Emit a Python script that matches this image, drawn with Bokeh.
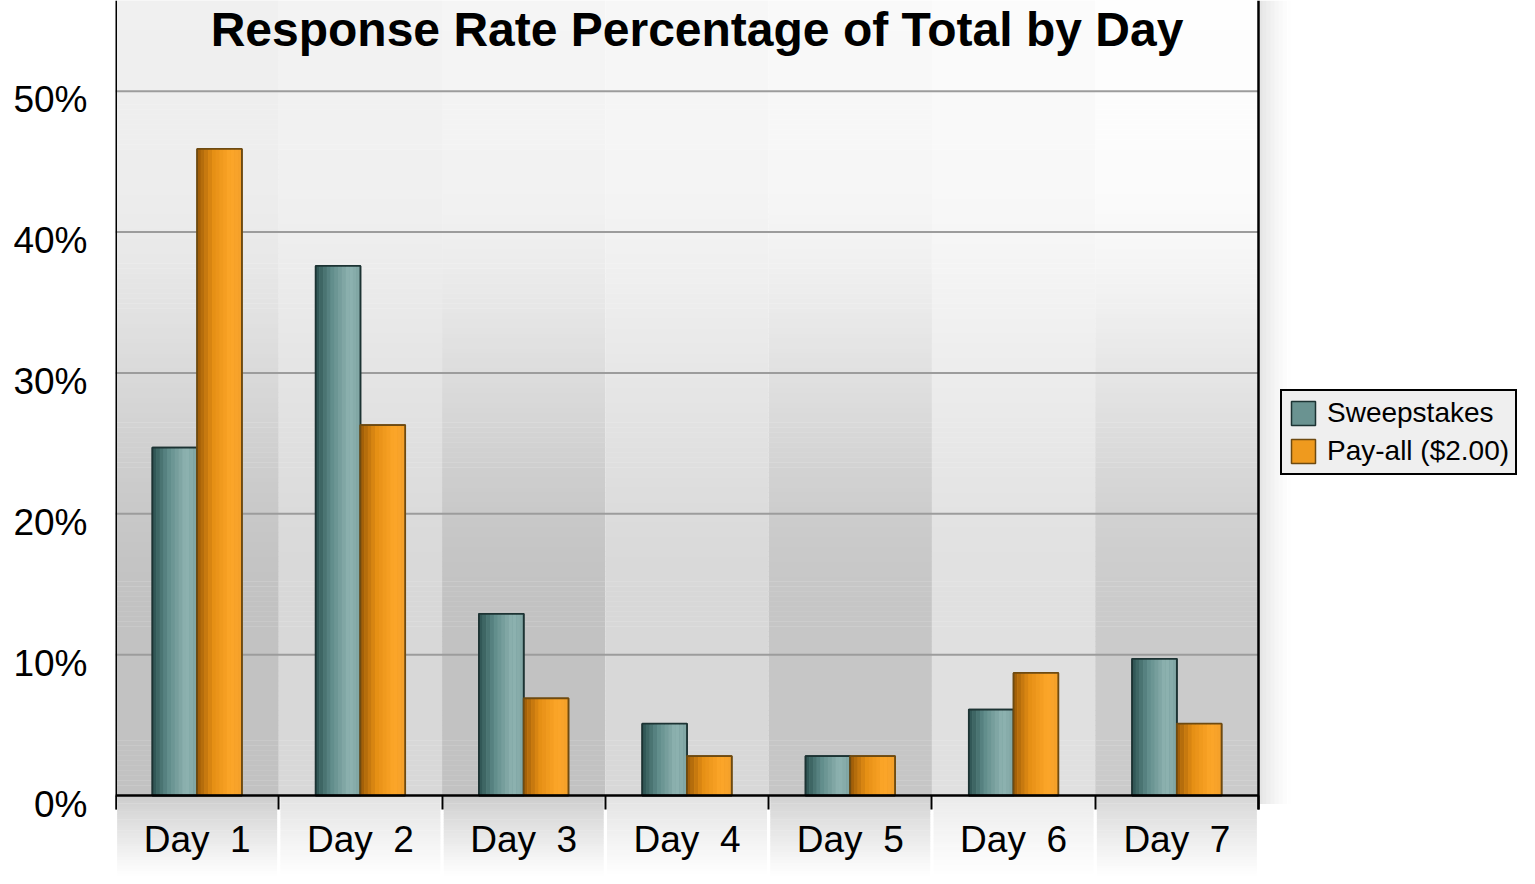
import numpy as np
from bokeh.plotting import figure
from bokeh.models import (Range1d, FixedTicker, Legend, LegendItem, Label)
from bokeh.embed import file_html
from bokeh.resources import INLINE

# ---------------- data ----------------
days = ["Day\u00a0\u00a01", "Day\u00a0\u00a02", "Day\u00a0\u00a03", "Day\u00a0\u00a04",
        "Day\u00a0\u00a05", "Day\u00a0\u00a06", "Day\u00a0\u00a07"]
sweepstakes = [24.7, 37.6, 12.9, 5.1, 2.8, 6.1, 9.7]
pay_all = [45.9, 26.3, 6.9, 2.8, 2.8, 8.7, 5.1]
y_ticks = [0, 10, 20, 30, 40, 50]
y_tick_labels = ["0%", "10%", "20%", "30%", "40%", "50%"]
series_names = ["Sweepstakes", "Pay-all ($2.00)"]
title_text = "Response Rate Percentage of Total by Day"

# ---------------- style ----------------
FONT = "Liberation Sans"
n = len(days)
FRAME_W, FRAME_H = 1412, 876
YMIN, YMAX = -5.75, 56.44
XMAX = n * FRAME_W / 1143.0
LABEL_SHIFT = 0.61   # y tick labels sit a little below their grid lines

p = figure(frame_width=FRAME_W, frame_height=FRAME_H, output_backend="svg", toolbar_location=None,
           x_range=Range1d(0, XMAX), y_range=Range1d(YMIN, YMAX),
           min_border_left=115, min_border_right=0, min_border_top=0, min_border_bottom=0,
           background_fill_color="white", border_fill_color="white")
p.outline_line_color = None
p.ygrid.visible = False
p.xgrid.visible = False

# ---- background bands (decorative gradient) ----
band_top = [0xf0, 0xf3, 0xf5, 0xf7, 0xf9, 0xfb, 0xfe]
band_bot = [0xc2, 0xd8, 0xc2, 0xd8, 0xc6, 0xe0, 0xcb]
L, R, B, T, C = [], [], [], [], []
N = 160
edges = np.linspace(0, YMAX, N + 1)
M = 30
edges_b = np.linspace(YMIN, 0, M + 1)
for i in range(n):
    for k in range(N):
        yc = 0.5 * (edges[k] + edges[k + 1])
        top_g = band_top[i] - 6 * min(1.0, (YMAX - yc) / 25.0)
        s = min(1.0, max(0.0, (44.0 - yc) / 32.0))
        s = s * s * (3 - 2 * s)
        g = int(round(top_g + (band_bot[i] - top_g) * s))
        L.append(i); R.append(i + 1); B.append(edges[k]); T.append(edges[k + 1] + 0.03)
        C.append("#%02x%02x%02x" % (g, g, g))
    for k in range(M):
        yc = 0.5 * (edges_b[k] + edges_b[k + 1])
        f = yc / YMIN
        b0 = band_bot[i] + 10
        g = int(round(b0 + (255 - b0) * f ** 0.9))
        L.append(i + 0.01); R.append(i + 0.99); B.append(edges_b[k]); T.append(edges_b[k + 1] + 0.03)
        C.append("#%02x%02x%02x" % (g, g, g))
p.quad(left=L, right=R, bottom=B, top=T, fill_color=C, line_color=None, level="image")

# soft shadow right of the plot area
SH = 8
sh_w = 0.2 / SH
p.quad(left=[n + j * sh_w for j in range(SH)], right=[n + (j + 1) * sh_w for j in range(SH)],
       bottom=[-0.6] * SH, top=[YMAX] * SH, fill_color="black",
       fill_alpha=[0.10 * (1 - j / SH) ** 1.5 for j in range(SH)], line_color=None, level="image")

# grid lines (only across the plot area)
gt = y_ticks[1:]
p.segment(x0=[0] * len(gt), y0=gt, x1=[n] * len(gt), y1=gt, line_color="#9c9c9c", line_width=2)

# ---- y axis ----
lab_pos = [t - LABEL_SHIFT for t in y_ticks]
p.yaxis.ticker = FixedTicker(ticks=lab_pos)
p.yaxis.major_label_overrides = {pos: lab for pos, lab in zip(lab_pos, y_tick_labels)}
p.yaxis.axis_line_color = None
p.yaxis.major_tick_line_color = None
p.yaxis.minor_tick_line_color = None
p.yaxis.major_tick_out = 0
p.yaxis.major_label_text_font = FONT
p.yaxis.major_label_text_font_size = "37px"
p.yaxis.major_label_text_color = "black"
p.yaxis.major_label_standoff = 28

# ---- x axis: labels at category centres, tick marks at category boundaries ----
label_ticks = [i + 0.5 for i in range(n)]
xa = p.xaxis[0]
xa.ticker = FixedTicker(ticks=label_ticks, minor_ticks=list(range(n + 1)))
xa.fixed_location = 0
xa.bounds = (0, n)
xa.axis_line_color = "black"
xa.axis_line_width = 2.5
xa.major_tick_line_color = None
xa.major_tick_out = 0
xa.minor_tick_line_color = "black"
xa.minor_tick_line_width = 2
xa.minor_tick_out = 14
xa.minor_tick_in = 0
xa.major_label_overrides = {t: d for t, d in zip(label_ticks, days)}
xa.major_label_text_font = FONT
xa.major_label_text_font_size = "37px"
xa.major_label_text_color = "black"
xa.major_label_standoff = 9

# frame side lines
p.segment(x0=[0, n], y0=[-1.0, -1.0], x1=[0, n], y1=[YMAX, YMAX],
          line_color="black", line_width=[3, 2.5])

# ---- bars ----
off, w = 0.137, 0.274


def interp_color(stops, t):
    for (t0, c0), (t1, c1) in zip(stops[:-1], stops[1:]):
        if t0 <= t <= t1:
            a = (t - t0) / (t1 - t0)
            r0, g0, b0 = int(c0[1:3], 16), int(c0[3:5], 16), int(c0[5:7], 16)
            r1, g1, b1 = int(c1[1:3], 16), int(c1[3:5], 16), int(c1[5:7], 16)
            return "#%02x%02x%02x" % (round(r0 + (r1 - r0) * a), round(g0 + (g1 - g0) * a),
                                      round(b0 + (b1 - b0) * a))
    return stops[-1][1]


series = [
    (sweepstakes, -off, [(0, "#2c5150"), (0.35, "#5f8b89"), (0.75, "#8fb3b1"), (1.0, "#7fa5a3")],
     "#6a9391", "#1c3333"),
    (pay_all, off, [(0, "#9a5a08"), (0.35, "#e58e14"), (0.75, "#fca629"), (1.0, "#f4a02a")],
     "#ef9a1e", "#6e4a10"),
]
legend_items = []
NS = 12
for (vals, dx, stops, mid, edge), name in zip(series, series_names):
    xc = [i + 0.5 + dx for i in range(n)]
    base = p.vbar(x=xc, top=vals, bottom=0, width=w, fill_color=mid, line_color=edge, line_width=1.5)
    sx, st, sc = [], [], []
    for j in range(NS):
        t = (j + 0.5) / NS
        col = interp_color(stops, t)
        for i in range(n):
            sx.append(xc[i] - w / 2 + (j + 0.5) * w / NS)
            st.append(vals[i])
            sc.append(col)
    p.vbar(x=sx, top=st, bottom=0, width=w / NS * 1.05, fill_color=sc, line_color=None)
    p.vbar(x=xc, top=vals, bottom=0, width=w, fill_color=None, line_color=edge, line_width=1.8)
    legend_items.append(LegendItem(label=name, renderers=[base]))

legend = Legend(items=legend_items, location=(1165, 401), margin=0,
                label_text_font=FONT, label_text_font_size="28px", label_text_color="black",
                glyph_width=30, glyph_height=30, spacing=6, padding=6, label_standoff=9,
                border_line_color="black", border_line_width=2.5, border_line_alpha=1.0,
                background_fill_color="#efefef", background_fill_alpha=1.0)
p.add_layout(legend)

# ---- title ----
p.add_layout(Label(x=n / 2, y=54.38, x_offset=10, text=title_text, text_align="center",
                   text_baseline="alphabetic", text_font=FONT, text_font_style="bold",
                   text_font_size="48px", text_color="black"))

open("out.html", "w").write(file_html(p, INLINE))
